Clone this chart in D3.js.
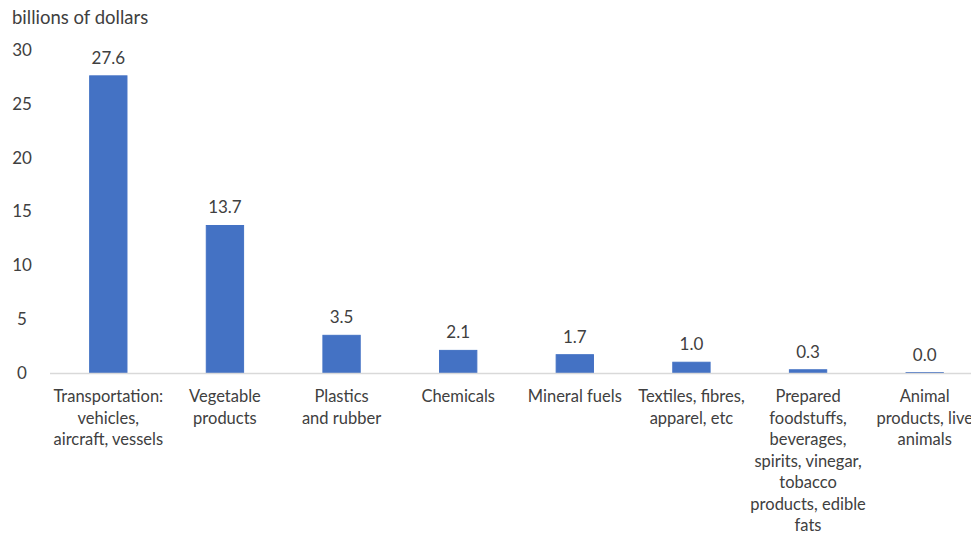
<!DOCTYPE html>
<html>
<head>
<meta charset="utf-8">
<script src="https://cdn.jsdelivr.net/npm/d3@7"></script>
<style>
  body { margin: 0; background: #fff; }
  svg text { font-family: Lato, "Open Sans", sans-serif; fill: #404040; }
</style>
</head>
<body>
<svg id="chart" width="971" height="533"></svg>
<script>
// category labels, line breaks as in the original
let categories = [
  "Transportation:\nvehicles,\naircraft, vessels",
  "Vegetable\nproducts",
  "Plastics\nand rubber",
  "Chemicals",
  "Mineral fuels",
  "Textiles, fibres,\napparel, etc",
  "Prepared\nfoodstuffs,\nbeverages,\nspirits, vinegar,\ntobacco\nproducts, edible\nfats",
  "Animal\nproducts, live\nanimals"
];
let values = [27.6, 13.7, 3.5, 2.1, 1.7, 1.0, 0.3, 0.04];
let yTicks = [0, 5, 10, 15, 20, 25, 30];
let unitLabel = "billions of dollars";

let svg = d3.select("#chart"),
    plotLeft = 50, plotRight = 983, plotTop = 50, plotBottom = 373;

let x = d3.scaleBand().domain(d3.range(categories.length)).range([plotLeft, plotRight]).paddingInner(0.68).paddingOuter(0.34),
    y = d3.scaleLinear().domain([0, 30]).range([plotBottom, plotTop]);

svg.append("text")
  .attr("x", 12).attr("y", 24)
  .style("font-size", "18.5px")
  .text(unitLabel);

// y axis labels only, no line or gridlines
let yAxis = d3.axisLeft(y).tickValues(yTicks).tickSize(0).tickPadding(0);
svg.append("g")
  .attr("transform", "translate(22,0)")
  .call(yAxis)
  .call(g => g.select(".domain").remove())
  .selectAll("text")
  .attr("text-anchor", "middle")
  .style("font-size", "17px")
  .style("font-family", "Lato, sans-serif")
  .attr("fill", "#404040");

svg.selectAll(".bar")
  .data(values)
  .enter()
  .append("rect")
  .attr("class", "bar")
  .attr("x", (d, i) => x(i))
  .attr("width", x.bandwidth())
  .attr("y", d => y(d))
  .attr("height", d => y(0) - y(d))
  .attr("fill", "#4472C4")
  .attr("stroke", "#4472C4")
  .attr("stroke-width", 1);

svg.append("line")
  .attr("x1", plotLeft).attr("x2", plotRight)
  .attr("y1", y(0) + 0.5).attr("y2", y(0) + 0.5)
  .attr("stroke", "#d9d9d9").attr("stroke-width", 1.5);

svg.selectAll(".val")
  .data(values)
  .enter()
  .append("text")
  .attr("class", "val")
  .attr("x", (d, i) => x(i) + x.bandwidth() / 2)
  .attr("y", d => y(d) - 12)
  .attr("text-anchor", "middle")
  .style("font-size", "17px")
  .text(d => d.toFixed(1));

let cat = svg.selectAll(".cat")
  .data(categories)
  .enter()
  .append("text")
  .attr("class", "cat")
  .attr("text-anchor", "middle")
  .style("font-size", "16.5px");

cat.selectAll("tspan")
  .data((d, i) => d.split("\n").map(t => ({t: t, i: i})))
  .enter()
  .append("tspan")
  .attr("x", d => x(d.i) + x.bandwidth() / 2)
  .attr("y", (d, j) => 402 + j * 21.5)
  .text(d => d.t);
</script>
</body>
</html>
